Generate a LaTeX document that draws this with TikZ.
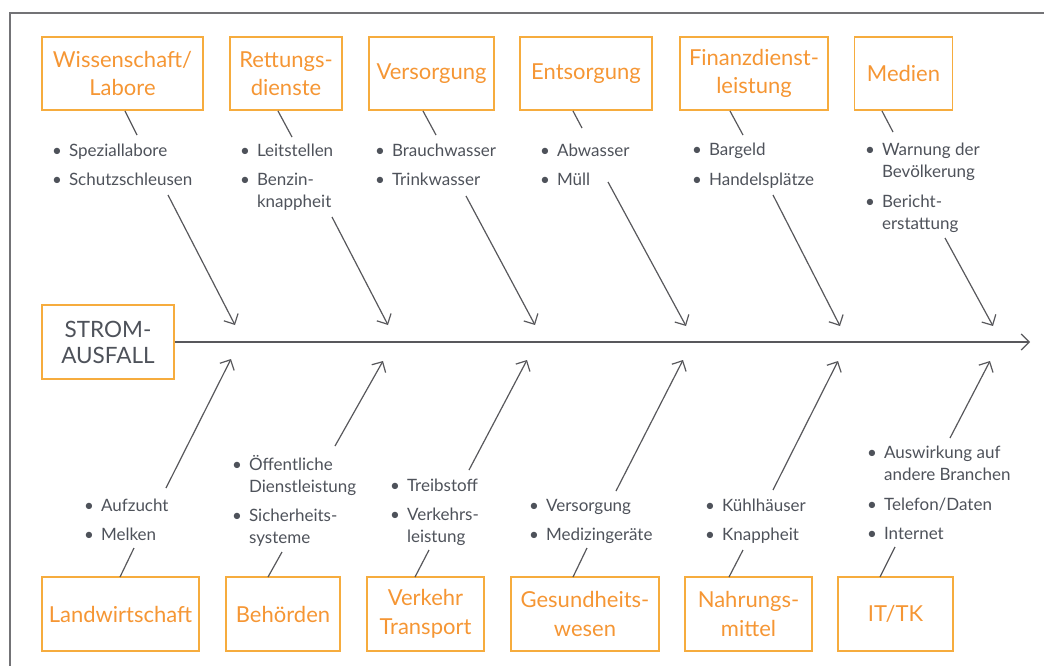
\documentclass[tikz,border=0pt]{standalone}
\usepackage{fontspec}
\setmainfont{Lato}
\usetikzlibrary{arrows.meta}

\definecolor{ttl}{RGB}{245,150,52}
\definecolor{frm}{RGB}{246,172,62}
\definecolor{txt}{RGB}{78,82,90}
\definecolor{ln}{RGB}{88,88,92}
\definecolor{edge}{RGB}{115,115,118}

% bullet list: rows of "bullet & text"
\newcommand\itemrows[1]{\begin{tabular}[t]{@{}l@{\hspace{7pt}}l@{}}#1\end{tabular}}
\newcommand\bl{\textbullet}

\tikzset{
  catbox/.style={draw=frm, line width=1.2pt, text=ttl, align=center,
    font=\fontsize{22}{28.5}\selectfont, inner sep=0pt, minimum height=73pt},
  rootbox/.style={draw=frm, line width=1.2pt, text=txt, align=center,
    font=\fontsize{22.5}{26}\selectfont, inner sep=0pt,
    minimum width=132pt, minimum height=74pt},
  itemlist/.style={anchor=base west, inner sep=0pt, text=txt,
    font=\fontsize{17}{22}\selectfont},
  twig/.style={draw=ln, line width=1.2pt},
  bone/.style={draw=ln, line width=1.2pt, -{Straight Barb[length=8pt,width=16pt]}},
}

\begin{document}
\begin{tikzpicture}[x=1pt, y=-1pt]
\useasboundingbox (0,0) rectangle (1044,666);

% open frame
\draw[edge, line width=1.5pt] (10,666) -- (10,13) -- (1044,13);

% root and spine
\node[rootbox] (strom) at (108,342) {STROM-\\AUSFALL};
\coordinate (spineend) at (1030,342);
\draw[bone] (strom.east) -- (spineend);

% ---- upper categories ----
\node[catbox, minimum width=161pt] (wiss) at (122.5,73.5) {Wissenschaft/\\Labore};
\node[catbox, minimum width=112pt] (rett) at (286,73.5) {Rettungs-\\dienste};
\node[catbox, minimum width=125pt] (vers) at (431.5,73.5) {Versorgung};
\node[catbox, minimum width=132pt] (ents) at (586,73.5) {Entsorgung};
\node[catbox, minimum width=148pt] (fin) at (754,73.5) {Finanzdienst-\\leistung};
\node[catbox, minimum width=98pt] (med) at (903.5,73.5) {Medien};

\node[itemlist] (lwiss) at (52,157) {\itemrows{\bl & Speziallabore\\[7pt] \bl & Schutzschleusen}};
\node[itemlist] (lrett) at (240,157) {\itemrows{\bl & Leitstellen\\[7pt] \bl & Benzin-\\ & knappheit}};
\node[itemlist] (lvers) at (375,157) {\itemrows{\bl & Brauchwasser\\[7pt] \bl & Trinkwasser}};
\node[itemlist] (lents) at (540,157) {\itemrows{\bl & Abwasser\\[7pt] \bl & Müll}};
\node[itemlist] (lfin) at (692,156) {\itemrows{\bl & Bargeld\\[7pt] \bl & Handelsplätze}};
\node[itemlist] (lmed) at (865,155) {\itemrows{\bl & Warnung der\\ & Bevölkerung\\[8pt] \bl & Bericht-\\ & erstattung}};

% twigs from the boxes to their lists
\coordinate (t1a) at (125,111); \coordinate (t1b) at (137,135);
\coordinate (t2a) at (278,111); \coordinate (t2b) at (292,137);
\coordinate (t3a) at (423,111); \coordinate (t3b) at (436,135);
\coordinate (t4a) at (573,111); \coordinate (t4b) at (582,128);
\coordinate (t5a) at (730,111); \coordinate (t5b) at (743,135);
\coordinate (t6a) at (882,111); \coordinate (t6b) at (893,132);
\foreach \i in {1,...,6} \draw[twig] (t\i a) -- (t\i b);

% bones from the lists to the spine
\coordinate (u1a) at (168,195); \coordinate (u1b) at (235,325);
\coordinate (u2a) at (332,217); \coordinate (u2b) at (388,325);
\coordinate (u3a) at (466,196); \coordinate (u3b) at (535,325);
\coordinate (u4a) at (608,182); \coordinate (u4b) at (686,326);
\coordinate (u5a) at (773,195); \coordinate (u5b) at (840,326);
\coordinate (u6a) at (945,238); \coordinate (u6b) at (993,326);
\foreach \i in {1,...,6} \draw[bone] (u\i a) -- (u\i b);

% ---- lower categories ----
\node[catbox, minimum width=157pt, minimum height=74pt] (land) at (120.5,614) {Landwirtschaft};
\node[catbox, minimum width=114pt, minimum height=74pt] (beh) at (283,614) {Behörden};
\node[catbox, minimum width=117pt, minimum height=74pt] (verk) at (425.5,614) {Verkehr\\Transport};
\node[catbox, minimum width=148pt, minimum height=74pt] (ges) at (585,614) {Gesundheits-\\wesen};
\node[catbox, minimum width=127pt, minimum height=74pt] (nahr) at (748.5,614) {Nahrungs-\\mittel};
\node[catbox, minimum width=115pt, minimum height=74pt] (it) at (895.5,614) {IT/TK};

\node[itemlist] (lland) at (84,511) {\itemrows{\bl & Aufzucht\\[7pt] \bl & Melken}};
\node[itemlist] (lbeh) at (232,470) {\itemrows{\bl & Öffentliche\\ & Dienstleistung\\[7pt] \bl & Sicherheits-\\ & systeme}};
\node[itemlist] (lverk) at (390,491) {\itemrows{\bl & Treibstoff\\[7pt] \bl & Verkehrs-\\ & leistung}};
\node[itemlist] (lges) at (529,511) {\itemrows{\bl & Versorgung\\[7pt] \bl & Medizingeräte}};
\node[itemlist] (lnahr) at (705,511) {\itemrows{\bl & Kühlhäuser\\[7pt] \bl & Knappheit}};
\node[itemlist] (lit) at (867,458) {\itemrows{\bl & Auswirkung auf\\ & andere Branchen\\[8pt] \bl & Telefon/Daten\\[7pt] \bl & Internet}};

% twigs from the lists down to the boxes
\coordinate (w1a) at (134,548); \coordinate (w1b) at (120,577);
\coordinate (w2a) at (282,552); \coordinate (w2b) at (268,577);
\coordinate (w3a) at (429,550); \coordinate (w3b) at (415,577);
\coordinate (w4a) at (587,548); \coordinate (w4b) at (573,577);
\coordinate (w5a) at (743,550); \coordinate (w5b) at (729,577);
\coordinate (w6a) at (895,547); \coordinate (w6b) at (880,577);
\foreach \i in {1,...,6} \draw[twig] (w\i a) -- (w\i b);

% bones from the lists up to the spine
\coordinate (v1a) at (166,488); \coordinate (v1b) at (231,359);
\coordinate (v2a) at (335,446); \coordinate (v2b) at (383,361);
\coordinate (v3a) at (469,470); \coordinate (v3b) at (527,360);
\coordinate (v4a) at (616,491); \coordinate (v4b) at (683,360);
\coordinate (v5a) at (773,490); \coordinate (v5b) at (838,361);
\coordinate (v6a) at (950,438); \coordinate (v6b) at (990,361);
\foreach \i in {1,...,6} \draw[bone] (v\i a) -- (v\i b);
\end{tikzpicture}
\end{document}
